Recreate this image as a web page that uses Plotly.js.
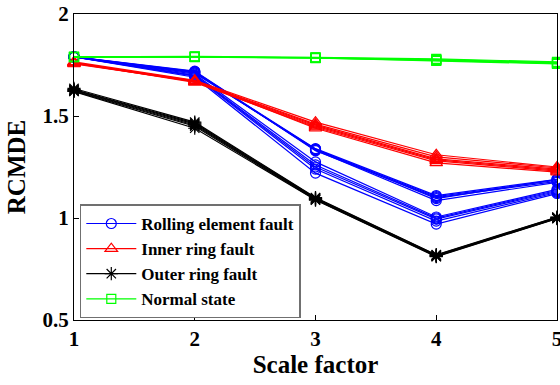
<!DOCTYPE html>
<html>
<head>
<meta charset="utf-8">
<script src="https://cdn.plot.ly/plotly-3.0.1.min.js"></script>
<style>
html,body{margin:0;padding:0;background:#fff;}
#chart{width:560px;height:385px;}
</style>
</head>
<body>
<div id="chart"></div>
<script>
var scaleFactors = [1, 2, 3, 4, 5];
var classNames = ['Rolling element fault', 'Inner ring fault', 'Outer ring fault', 'Normal state'];

var rollingElement = [
  [1.790, 1.715, 1.340, 1.110, 1.190],
  [1.790, 1.712, 1.335, 1.105, 1.185],
  [1.790, 1.718, 1.330, 1.100, 1.180],
  [1.790, 1.710, 1.338, 1.095, 1.190],
  [1.790, 1.720, 1.332, 1.085, 1.175],
  [1.790, 1.705, 1.275, 1.005, 1.140],
  [1.790, 1.700, 1.260, 1.000, 1.135],
  [1.790, 1.698, 1.250, 0.995, 1.130],
  [1.790, 1.695, 1.240, 0.985, 1.125],
  [1.790, 1.690, 1.220, 0.970, 1.120]
];
var innerRing = [
  [1.765, 1.675, 1.470, 1.310, 1.250],
  [1.760, 1.672, 1.460, 1.300, 1.245],
  [1.762, 1.670, 1.455, 1.290, 1.240],
  [1.758, 1.668, 1.450, 1.285, 1.235],
  [1.760, 1.665, 1.445, 1.280, 1.230],
  [1.755, 1.670, 1.440, 1.270, 1.225]
];
var outerRing = [
  [1.635, 1.470, 1.100, 0.820, 1.005],
  [1.630, 1.465, 1.098, 0.818, 1.003],
  [1.628, 1.460, 1.095, 0.815, 1.000],
  [1.625, 1.455, 1.093, 0.815, 1.000],
  [1.622, 1.450, 1.090, 0.812, 0.998],
  [1.620, 1.440, 1.088, 0.810, 0.997]
];
var normalState = [
  [1.790, 1.792, 1.787, 1.780, 1.765],
  [1.790, 1.790, 1.786, 1.777, 1.762],
  [1.790, 1.790, 1.785, 1.775, 1.760],
  [1.788, 1.789, 1.784, 1.773, 1.757],
  [1.789, 1.790, 1.785, 1.770, 1.755]
];
var yTickVals = [0.5, 1, 1.5, 2];
var yTickText = ['0.5', '1', '1.5', '2'];
var xTickVals = [1, 2, 3, 4, 5];

var groups = [
  {rows: rollingElement, color: '#0000ff', symbol: 'circle-open', size: 10},
  {rows: innerRing, color: '#ff0000', symbol: 'triangle-up-open', size: 11},
  {rows: outerRing, color: '#000000', symbol: 'asterisk-open', size: 11},
  {rows: normalState, color: '#00ff00', symbol: 'square-open', size: 9}
];

var traces = [];
groups.forEach(function (g, gi) {
  g.rows.forEach(function (row, ri) {
    traces.push({
      x: scaleFactors,
      y: row,
      type: 'scatter',
      mode: 'lines+markers',
      name: classNames[gi],
      legendgroup: 'g' + gi,
      showlegend: ri === 0,
      cliponaxis: false,
      line: {color: g.color, width: 1.2},
      marker: {symbol: g.symbol, size: g.size, color: g.color, line: {color: g.color, width: 1.2}}
    });
  });
});

var serif = 'Liberation Serif, Times New Roman, serif';
var layout = {
  width: 560, height: 385,
  font: {family: serif, color: '#000'},
  margin: {l: 74, r: 3, t: 14, b: 65},
  paper_bgcolor: '#fff', plot_bgcolor: '#fff',
  showlegend: true,
  xaxis: {
    range: [1, 5], tickvals: xTickVals, ticks: 'inside', ticklen: 5, tickcolor: '#000',
    ticklabeloverflow: 'allow',
    showline: true, linecolor: '#000', linewidth: 1, mirror: true, showgrid: false, zeroline: false,
    tickfont: {family: serif, size: 21, color: '#000', weight: 'bold'},
    title: {text: 'Scale factor', font: {family: serif, size: 25, color: '#000', weight: 'bold'}, standoff: 2}
  },
  yaxis: {
    range: [0.5, 2], tickvals: yTickVals, ticktext: yTickText, ticks: 'inside', ticklen: 5, tickcolor: '#000',
    showline: true, linecolor: '#000', linewidth: 1, mirror: true, showgrid: false, zeroline: false,
    tickfont: {family: serif, size: 21, color: '#000', weight: 'bold'},
    title: {text: 'RCMDE', font: {family: serif, size: 25, color: '#000', weight: 'bold'}, standoff: 9}
  },
  legend: {
    x: 0.012, y: 0.005, xanchor: 'left', yanchor: 'bottom',
    bgcolor: '#fff', bordercolor: '#707070', borderwidth: 1.5,
    font: {family: serif, size: 17, color: '#000', weight: 'bold'},
    tracegroupgap: 0, itemwidth: 50
  }
};

Plotly.newPlot('chart', traces, layout, {staticPlot: true, displayModeBar: false});
</script>
</body>
</html>
